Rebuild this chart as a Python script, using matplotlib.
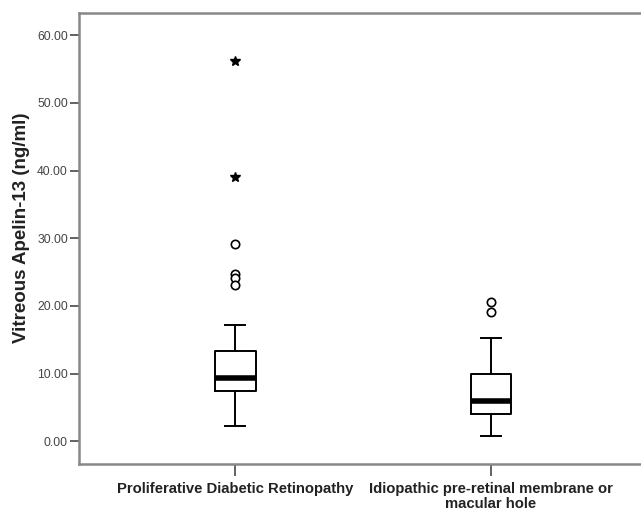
import numpy as np
import matplotlib
matplotlib.use("Agg")
import matplotlib.pyplot as plt

plt.rcParams['font.family'] = ['Liberation Sans', 'DejaVu Sans']

# groups and box statistics
groups = ['Proliferative Diabetic Retinopathy',
          'Idiopathic pre-retinal membrane or\nmacular hole']
med = [9.3, 5.9]
q1 = [7.4, 4.0]
q3 = [13.35, 9.95]
whislo = [2.25, 0.85]
whishi = [17.2, 15.2]
outliers = [[29.2, 24.8, 24.1, 23.1], [20.6, 19.05]]
extremes = [[56.2, 39.1], []]
yticks = [0, 10, 20, 30, 40, 50, 60]

fig = plt.figure(figsize=(6.41, 5.13), dpi=100)
ax = fig.add_axes([0.1232, 0.0955, 0.8768, 0.8792])

stats = []
for i in range(len(groups)):
    stats.append(dict(med=med[i], q1=q1[i], q3=q3[i], whislo=whislo[i],
                      whishi=whishi[i], fliers=outliers[i], label=groups[i]))

pos = [1, 2]
ax.bxp(stats, positions=pos, widths=0.16, capwidths=0.08,
       boxprops=dict(color='black', linewidth=1.4),
       whiskerprops=dict(color='black', linewidth=1.4),
       capprops=dict(color='black', linewidth=1.4),
       medianprops=dict(color='black', linewidth=4, solid_capstyle='butt'),
       flierprops=dict(marker='o', markersize=6, markerfacecolor='white',
                       markeredgecolor='black', markeredgewidth=1.2))

for p, ext in zip(pos, extremes):
    if ext:
        ax.plot([p] * len(ext), ext, linestyle='none', marker='*',
                markersize=7, color='black')

ax.set_xlim(0.39, 2.586)
ax.set_ylim(-3.35, 63.3)
ax.set_yticks(yticks)
ax.set_yticklabels(['%.2f' % v for v in yticks], fontsize=8.7, color='#444444')
ax.set_xticks(pos)
ax.set_xticklabels(groups, fontsize=10.7, fontweight='bold', color='#222222',
                   linespacing=1.1)
ax.tick_params(axis='y', length=6.5, width=1.3, color='#555555', pad=1.5)
ax.tick_params(axis='x', length=8.5, width=1.3, color='#555555', pad=4.5)
ax.set_ylabel('Vitreous Apelin-13 (ng/ml)', fontsize=13.5, fontweight='bold',
              color='#222222')
ax.yaxis.set_label_coords(-0.088, 0.524)

for s in ['left', 'top', 'bottom']:
    ax.spines[s].set_color('#888888')
    ax.spines[s].set_linewidth(1.8)
ax.spines['right'].set_visible(False)

fig.savefig('out.png', dpi=100)
